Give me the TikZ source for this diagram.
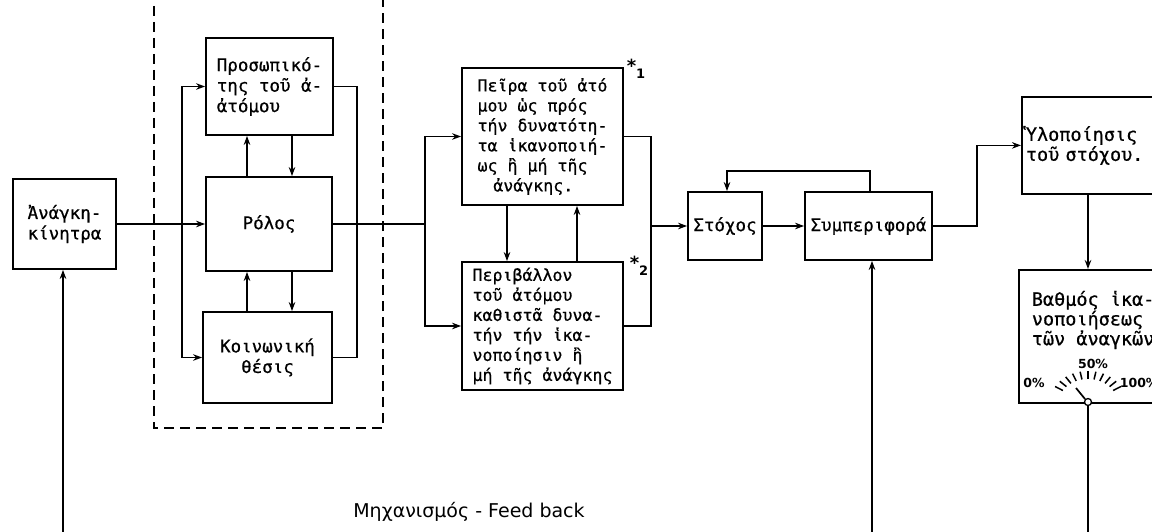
\documentclass[tikz,border=0pt]{standalone}
\usepackage{fontspec}
\setmainfont{DejaVu Sans Mono}[FakeBold=0.6]
\newfontfamily\labfont{DejaVu Sans}
\usetikzlibrary{arrows.meta,calc}
\begin{document}
\begin{tikzpicture}[x=1pt,y=-1pt, line width=1.7pt,
  box/.style={draw, line width=1.8pt, inner sep=0pt, align=left, font=\fontsize{17.5}{20.5}\selectfont},
  bigbox/.style={box, font=\fontsize{18.5}{20}\selectfont},
  arr/.style={-{Stealth[length=9pt,width=6.5pt]}},
  glab/.style={font=\labfont\bfseries\fontsize{12.5}{14}\selectfont, inner sep=0pt},
  star/.style={font=\labfont\bfseries\fontsize{18}{18}\selectfont, inner sep=0pt}]
\useasboundingbox (0,0) rectangle (1152,532);
\clip (0,0) rectangle (1152,532);
\fill[white] (0,0) rectangle (1152,532);

% dashed group frame
\draw[dash pattern=on 10pt off 6pt, line width=1.6pt] (154,-10) rectangle (383,428);

% boxes
\node[box, minimum width=103, minimum height=90] (need) at (64.5,224) {Ἀνάγκη-\\κίνητρα};
\node[box, minimum width=127, minimum height=97] (pros) at (269.5,86.5) {Προσωπικό-\\της τοῦ ἀ-\\ἀτόμου};
\node[box, minimum width=126, minimum height=94] (rolos) at (269,224) {Ρόλος};
\node[box, minimum width=129, minimum height=91, align=center] (koin) at (267.5,357.5) {Κοινωνική\\θέσις};
\node[box, minimum width=161, minimum height=137, font=\fontsize{16.6}{20}\selectfont] (peira) at (542.5,136.5)
  {Πεῖρα τοῦ ἀτό\\μου ὡς πρός\\τήν δυνατότη-\\τα ἱκανοποιή-\\ως ἢ μή τῆς\\\hspace*{0.95em}ἀνάγκης.};
\node[box, minimum width=161, minimum height=128, font=\fontsize{16.6}{20}\selectfont] (perib) at (542.5,326)
  {Περιβάλλον\\τοῦ ἀτόμου\\καθιστᾶ δυνα-\\τήν τήν ἱκα-\\νοποίησιν ἢ\\μή τῆς ἀνάγκης};
\node[box, minimum width=74, minimum height=68] (stoxos) at (725,226) {Στόχος};
\node[box, minimum width=127, minimum height=68] (symp) at (868.5,226) {Συμπεριφορά};
\node[bigbox, anchor=north west, minimum width=170, minimum height=97, text width=162, inner xsep=4pt] (ylop) at (1021,96) {Ὑλοποίησις\\τοῦ στόχου.};
\node[box, anchor=north west, minimum width=170, minimum height=133] (bathm) at (1018,269) {};
\node[font=\fontsize{18.5}{18.5}\selectfont, align=left, anchor=north west, inner sep=0pt] (bathmtxt) at (1031,290) {Βαθμός ἱκα-\\νοποιήσεως\\τῶν ἀναγκῶν};

% star marks
\node[star] (s1) at (636,69) {*\raisebox{-6pt}{\fontsize{13}{13}\selectfont 1}};
\node[star] (s2) at (639,266) {*\raisebox{-6pt}{\fontsize{13}{13}\selectfont 2}};

% coordinates
\coordinate (bl) at (182,224);
\coordinate (br) at (357,224);
\coordinate (bus2) at (425,224);
\coordinate (bus3) at (651,226);
\coordinate (u1) at (247,0);
\coordinate (d1) at (292,0);
\coordinate (d2) at (507,0);
\coordinate (u2) at (577,0);
\coordinate (loopR) at (870,171);
\coordinate (loopL) at (727,171);
\coordinate (bend) at (977,226);
\coordinate (g) at (1088,0);
\coordinate (fbA) at (63,545);
\coordinate (fbB) at (872,545);
\coordinate (gdown) at (1088,545);

% first stage
\draw[arr] (need.east) -- (rolos.west);
\draw[arr] (bl) |- (pros.west);
\draw[arr] (bl) |- (koin.west);
\draw (pros.east) -| (br);
\draw (koin.east) -| (br);
\draw (rolos.east) -- (bus2);
\draw[arr] (rolos.north -| u1) -- (pros.south -| u1);
\draw[arr] (pros.south -| d1) -- (rolos.north -| d1);
\draw[arr] (koin.north -| u1) -- (rolos.south -| u1);
\draw[arr] (rolos.south -| d1) -- (koin.north -| d1);

% second stage
\draw[arr] (bus2) |- (peira.west);
\draw[arr] (bus2) |- (perib.west);
\draw (peira.east) -| (bus3);
\draw (perib.east) -| (bus3);
\draw[arr] (peira.south -| d2) -- (perib.north -| d2);
\draw[arr] (perib.north -| u2) -- (peira.south -| u2);
\draw[arr] (bus3) -- (stoxos.west);

% goal / behaviour
\draw[arr] (stoxos.east) -- (symp.west);
\draw[arr] (symp.north -| loopR) -- (loopR) -- (loopL) -- (stoxos.north -| loopL);
\draw[arr] (symp.east) -- (bend) |- (ylop.west);
\draw[arr] (ylop.south -| g) -- (bathm.north -| g);

% gauge
\node[circle, draw, fill=white, line width=1.3pt, inner sep=0pt, minimum size=7pt] (piv) at (1088,402) {};
\foreach \a in {150,138,...,30}
  \draw[line width=1.5pt] ($(piv)+({29*cos(\a)},{-23*sin(\a)})$) -- ($(piv)+({38*cos(\a)},{-31*sin(\a)})$);
\coordinate (needle) at (1076,388);
\draw[line width=1.7pt] (piv.north west) -- (needle);
\node[glab] (g50) at (1093,364) {50\%};
\node[glab] (g0) at (1034,383) {0\%};
\node[glab, anchor=west] (g100) at (1119,383) {100\%};

% feedback lines from below
\draw[arr] (fbA) -- (need.south -| fbA);
\draw[arr] (fbB) -- (symp.south -| fbB);
\draw (piv.south) -- (gdown);

\node[font=\labfont\fontsize{19}{19}\selectfont, inner sep=0pt] (fbtxt) at (469,512) {Μηχανισμός - Feed back};
\end{tikzpicture}
\end{document}
